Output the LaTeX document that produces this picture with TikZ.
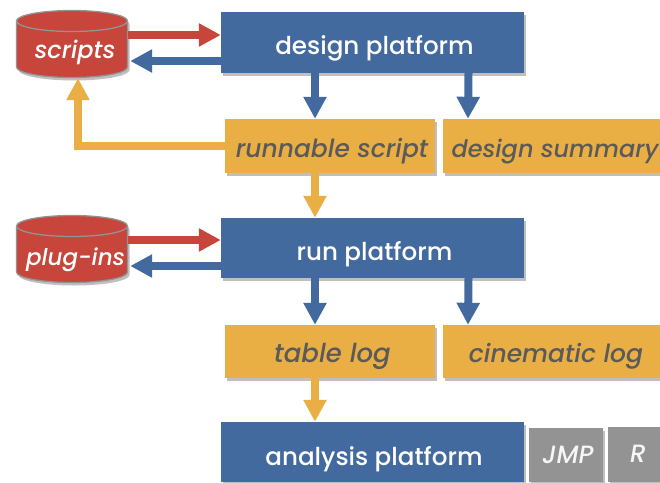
\documentclass[tikz,border=0pt]{standalone}
\usepackage{fontspec}
\setmainfont{Poppins Medium}[ItalicFont={Poppins Medium Italic}]
\usetikzlibrary{arrows.meta,shadows,calc}
\definecolor{bl}{HTML}{436A9E}
\definecolor{rd}{HTML}{C7453B}
\definecolor{yl}{HTML}{E9AF45}
\definecolor{gy}{HTML}{939393}
\definecolor{tx}{HTML}{5A5A5A}
\newcommand{\drumshape}[1]{%
  \begin{scope}[shift={(0,#1)}]
    \draw[shade box,fill=rd,draw=gy,line width=1.3pt] (16.5,21) -- (16.5,67)
      arc[start angle=180,end angle=360,x radius=55.5pt,y radius=10.5pt]
      -- (127.5,21)
      arc[start angle=0,end angle=180,x radius=55.5pt,y radius=10.5pt] -- cycle;
    \draw[draw=gy,line width=1.3pt] (16.5,21)
      arc[start angle=180,end angle=360,x radius=55.5pt,y radius=10.5pt];
  \end{scope}}
\tikzset{
  shade box/.style={drop shadow={shadow xshift=2pt,shadow yshift=-3pt,opacity=.25,fill=black}},
  platform/.style={shade box,fill=bl,text=white,inner sep=0pt,text height=24pt,text depth=0pt,font=\fontsize{24.6}{27}\selectfont},
  artifact/.style={shade box,fill=yl,text=tx,inner sep=0pt,text height=22pt,text depth=0pt,font=\fontsize{25}{26}\selectfont\itshape},
  tool/.style={shade box,fill=gy,text=white!92!gy,inner sep=0pt,text height=16pt,text depth=0pt,font=\fontsize{25}{26}\selectfont\itshape},
  store/.style={minimum width=112pt,minimum height=68pt,inner sep=0pt,text=white,text depth=0pt,font=\fontsize{23}{26}\selectfont\itshape},
  flow/.style={line width=8pt,-{Triangle[length=22pt,width=22pt]},shorten >=0pt},
}
\begin{document}
\begin{tikzpicture}[x=1pt,y=-1pt]
\useasboundingbox (0,0) rectangle (660,482);
\drumshape{0}
\drumshape{205}
\node[store,text height=28pt,font=\fontsize{24}{26}\selectfont\itshape] (scripts) at (72,44) {\hspace*{6pt}scripts};
\node[store,text height=33pt] (plugins) at (72,249) {\hspace*{7pt}plug-ins};
\node[platform,minimum width=303pt,minimum height=61pt] (design) at (372.5,42.5) {\hspace*{4pt}design platform};
\node[platform,minimum width=303pt,minimum height=60pt] (run) at (372.5,248) {\hspace*{4pt}run platform};
\node[platform,minimum width=303pt,minimum height=60pt,text height=27pt] (analysis) at (372.5,452) {\hspace*{3pt}analysis platform};
\node[artifact,minimum width=210pt,minimum height=54pt] (runnable) at (330,146) {\hspace*{4pt}runnable script};
\node[artifact,minimum width=217pt,minimum height=54pt,font=\fontsize{24}{26}\selectfont\itshape] (summary) at (551.5,146) {\hspace*{7pt}design summary};
\node[artifact,minimum width=210pt,minimum height=53pt,font=\fontsize{26}{26}\selectfont\itshape] (table) at (330,351.5) {\hspace*{5pt}table log};
\node[artifact,minimum width=217pt,minimum height=53pt] (cinematic) at (551.5,351.5) {\hspace*{9pt}cinematic log};
\node[tool,minimum width=74pt,minimum height=54pt] (jmp) at (566,455) {\hspace*{4pt}JMP};
\node[tool,minimum width=52pt,minimum height=55pt] (r) at (634,454.5) {\hspace*{8pt}R};
% connectors
\draw[flow,rd] ([yshift=7.5pt]design.west -| scripts.east) -- ([yshift=7.5pt]design.west);
\draw[flow,bl] ([yshift=-18.5pt]design.west) -- ([xshift=2pt,yshift=-18.5pt]design.west -| scripts.east);
\draw[flow,rd] ([yshift=8pt]run.west -| plugins.east) -- ([yshift=8pt]run.west);
\draw[flow,bl] ([yshift=-18pt]run.west) -- ([xshift=2pt,yshift=-18pt]run.west -| plugins.east);
\draw[flow,bl] ([xshift=-57.5pt]design.south) -- ([xshift=-15pt]runnable.north);
\draw[flow,bl] ([xshift=96pt]design.south) -- ([xshift=-83.5pt]summary.north);
\draw[flow,yl] ([xshift=-15pt]runnable.south) -- ([xshift=-57.5pt]run.north);
\draw[flow,bl] ([xshift=-57.5pt]run.south) -- ([xshift=-15pt]table.north);
\draw[flow,bl] ([xshift=96pt]run.south) -- ([xshift=-83.5pt]cinematic.north);
\draw[flow,yl] ([xshift=-15pt]table.south) -- ([xshift=-57.5pt]analysis.north);
\draw[flow,yl] (runnable.west) -- (78,146) -- ([xshift=6pt]scripts.south);
\end{tikzpicture}
\end{document}
